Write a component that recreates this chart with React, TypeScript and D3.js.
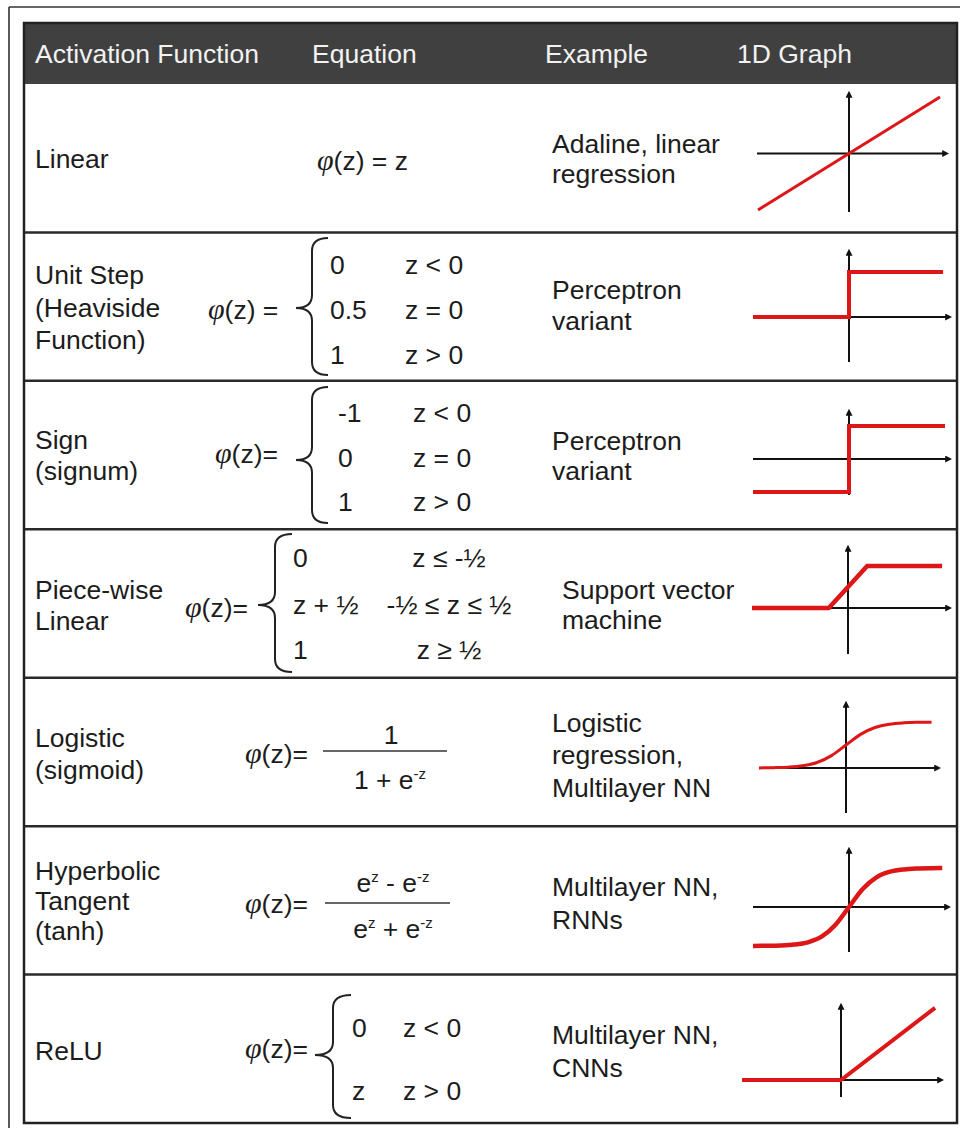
import React from "react";
import * as d3 from "d3";

// ---------- DATA ----------
const headerLabels = ["Activation Function", "Equation", "Example", "1D Graph"];

const functionNames = [
  ["Linear"],
  ["Unit Step", "(Heaviside", "Function)"],
  ["Sign", "(signum)"],
  ["Piece-wise", "Linear"],
  ["Logistic", "(sigmoid)"],
  ["Hyperbolic", "Tangent", "(tanh)"],
  ["ReLU"],
];

const examples = [
  ["Adaline, linear", "regression"],
  ["Perceptron", "variant"],
  ["Perceptron", "variant"],
  ["Support vector", "machine"],
  ["Logistic", "regression,", "Multilayer NN"],
  ["Multilayer NN,", "RNNs"],
  ["Multilayer NN,", "CNNs"],
];

const stepCases = [["0", "z < 0"], ["0.5", "z = 0"], ["1", "z > 0"]];
const signCases = [["-1", "z < 0"], ["0", "z = 0"], ["1", "z > 0"]];
const piecewiseCases = [["0", "z ≤ -½"], ["z + ½", "-½ ≤ z ≤ ½"], ["1", "z ≥ ½"]];
const reluCases = [["0", "z < 0"], ["z", "z > 0"]];

// graph curves (z, φ(z))
const linearPts = [[-1, -1], [1, 1]];
const stepPts = [[-1, 0], [0, 0], [0, 1], [0.98, 1]];
const signPts = [[-1, -1], [0, -1], [0, 1], [1, 1]];
const piecewisePts = [[-2.5, 0], [-0.5, 0], [0.5, 1], [2.45, 1]];
const sigmoidPts = [
  [-6, 0.002], [-5, 0.007], [-4, 0.018], [-3, 0.047], [-2, 0.119], [-1, 0.269], [0, 0.5],
  [1, 0.731], [2, 0.881], [3, 0.953], [4, 0.982], [5, 0.993], [5.9, 0.997],
];
const tanhPts = [
  [-3.5, -0.998], [-3, -0.995], [-2.5, -0.987], [-2, -0.964], [-1.5, -0.905], [-1, -0.762],
  [-0.5, -0.462], [0, 0], [0.5, 0.462], [1, 0.762], [1.5, 0.905], [2, 0.964], [2.5, 0.987],
  [3, 0.995], [3.4, 0.998],
];
const reluPts = [[-1, 0], [0, 0], [0.95, 0.95]];

const graphData = [
  { pts: linearPts, xDomain: [-1, 1], yDomain: [-1, 1], smooth: false },
  { pts: stepPts, xDomain: [-1, 1], yDomain: [0, 1], smooth: false },
  { pts: signPts, xDomain: [-1, 1], yDomain: [-1, 1], smooth: false },
  { pts: piecewisePts, xDomain: [-2.5, 2.5], yDomain: [0, 1], smooth: false },
  { pts: sigmoidPts, xDomain: [-6, 6], yDomain: [0, 1], smooth: true },
  { pts: tanhPts, xDomain: [-3.5, 3.5], yDomain: [-1, 1], smooth: true },
  { pts: reluPts, xDomain: [-1, 1], yDomain: [0, 1], smooth: false },
];

// ---------- LAYOUT ----------
const W = 960;
const H = 1128;
const tableL = 24, tableR = 957, tableT = 23, headerB = 84, tableB = 1123;
const FONT = "'Liberation Sans', Arial, Helvetica, sans-serif";
const SERIF = "'Liberation Serif', 'Times New Roman', serif";
const FS = 26.5;
const TXT = "#1c1c1c";
const RED = "#dd1717";

const headerX = [35, 312, 545, 737];
const nameX = 35;
const nameBaselines = [[168], [284, 317, 349], [449, 480], [599, 630], [747, 779], [880, 910, 940], [1060]];
const exampleX = [552, 552, 552, 562, 552, 552, 552];
const exampleBaselines = [[153, 183], [299, 330], [450, 480], [599, 629], [732, 764, 797], [896, 929], [1044, 1077]];

const graphLayout = [
  { xRange: [758, 940], yRange: [210, 97], hAxis: [757, 945], vAxis: [95, 212], w: 3 },
  { xRange: [753, 945], yRange: [317, 272], hAxis: [753, 948], vAxis: [253, 362], w: 4 },
  { xRange: [753, 945], yRange: [492, 426], hAxis: [753, 948], vAxis: [413, 495], w: 4 },
  { xRange: [752, 944], yRange: [608, 566], hAxis: [752, 948], vAxis: [549, 654], w: 4.5 },
  { xRange: [759, 933], yRange: [768, 722], hAxis: [759, 937], vAxis: [705, 813], w: 3 },
  { xRange: [753, 945], yRange: [946, 868], hAxis: [753, 947], vAxis: [851, 952], w: 4.5 },
  { xRange: [742, 940], yRange: [1080, 1004], hAxis: [742, 940], vAxis: [1007, 1097], w: 4 },
];

const rowScale = d3.scaleLinear().domain([0, 7]).range([headerB, tableB]);

function bracePath(x: number, top: number, bottom: number, tip: number, w: number) {
  const m = x + w / 2;
  const r = 13;
  const p = d3.path();
  p.moveTo(x + w, top);
  p.quadraticCurveTo(m, top, m, top + r);
  p.lineTo(m, tip - r);
  p.quadraticCurveTo(m, tip, x, tip);
  p.quadraticCurveTo(m, tip, m, tip + r);
  p.lineTo(m, bottom - r);
  p.quadraticCurveTo(m, bottom, x + w, bottom);
  return p.toString();
}

const Phi = () => (
  <tspan fontFamily={SERIF} fontStyle="italic" fontSize={30}>φ</tspan>
);

function Brace({ x, top, bottom, tip, w }: any) {
  return <path d={bracePath(x, top, bottom, tip, w)} fill="none" stroke="#222" strokeWidth={2} />;
}

function Cases({ cases, vx, cx, baselines, condAnchor = "start" }: any) {
  return (
    <g>
      {cases.map((c: string[], i: number) => (
        <g key={i}>
          <text x={vx} y={baselines[i]}>{c[0]}</text>
          <text x={cx} y={baselines[i]} textAnchor={condAnchor}>{c[1]}</text>
        </g>
      ))}
    </g>
  );
}

function Graph({ layout, data }: any) {
  const x = d3.scaleLinear().domain(data.xDomain).range(layout.xRange);
  const y = d3.scaleLinear().domain(data.yDomain).range(layout.yRange);
  const ox = x(0);
  const oy = y(0);
  const line = d3
    .line<number[]>()
    .x((d) => x(d[0]))
    .y((d) => y(d[1]))
    .curve(data.smooth ? d3.curveMonotoneX : d3.curveLinear);
  return (
    <g>
      <line x1={layout.hAxis[0]} x2={layout.hAxis[1]} y1={oy} y2={oy} stroke="#111" strokeWidth={2} markerEnd="url(#arr)" />
      <line x1={ox} x2={ox} y1={layout.vAxis[1]} y2={layout.vAxis[0]} stroke="#111" strokeWidth={2} markerEnd="url(#arr)" />
      <path d={line(data.pts) || ""} fill="none" stroke={RED} strokeWidth={layout.w} strokeLinejoin="miter" />
    </g>
  );
}

export default function App() {
  const rows = d3.range(1, 7).map((i) => rowScale(i));
  return (
    <svg width={W} height={H} style={{ position: "absolute", left: 0, top: 0, background: "#fff" }}
      fontFamily={FONT} fontSize={FS} fill={TXT}>
      <defs>
        <marker id="arr" viewBox="0 0 10 10" refX={4} refY={5} markerWidth={7} markerHeight={7}
          markerUnits="userSpaceOnUse" orient="auto">
          <path d="M0,0 L10,5 L0,10 z" fill="#111" />
        </marker>
      </defs>
      <rect x={0} y={0} width={W} height={H} fill="#fff" />
      {/* outer frame */}
      <line x1={9} x2={W} y1={7} y2={7} stroke="#333" strokeWidth={1.6} />
      <line x1={9} x2={9} y1={7} y2={H} stroke="#333" strokeWidth={1.6} />

      {/* header */}
      <rect x={tableL} y={tableT} width={tableR - tableL} height={headerB - tableT} fill="#404040" />
      {headerLabels.map((h, i) => (
        <text key={h} x={headerX[i]} y={63} fill="#f2f2f2">{h}</text>
      ))}

      {/* row separators */}
      {rows.map((ry, i) => (
        <line key={i} x1={tableL} x2={tableR} y1={ry} y2={ry} stroke="#2a2a2a" strokeWidth={2.5} />
      ))}

      {/* function names */}
      {functionNames.map((lines, r) =>
        lines.map((t, j) => (
          <text key={r + "-" + j} x={nameX} y={nameBaselines[r][j]}>{t}</text>
        ))
      )}

      {/* examples */}
      {examples.map((lines, r) =>
        lines.map((t, j) => (
          <text key={"e" + r + "-" + j} x={exampleX[r]} y={exampleBaselines[r][j]}>{t}</text>
        ))
      )}

      {/* equations */}
      <text x={317} y={170}><Phi />(z) = z</text>

      <text x={208} y={319}><Phi />(z) =</text>
      <Brace x={296} top={238} bottom={375} tip={308} w={32} />
      <Cases cases={stepCases} vx={330} cx={405} baselines={[274, 319, 364]} />

      <text x={215} y={463}><Phi />(z)=</text>
      <Brace x={296} top={387} bottom={523} tip={460} w={32} />
      <Cases cases={signCases} vx={338} cx={413} baselines={[422, 467, 511]} />

      <text x={185} y={617}><Phi />(z)=</text>
      <Brace x={258} top={534} bottom={672} tip={605} w={34} />
      <Cases cases={piecewiseCases} vx={293} cx={449} baselines={[567, 614, 659]} condAnchor="middle" />

      <text x={245} y={763}><Phi />(z)=</text>
      <line x1={323} x2={447} y1={751} y2={751} stroke="#333" strokeWidth={1.6} />
      <text x={391} y={744} textAnchor="middle">1</text>
      <text x={390} y={789} textAnchor="middle">
        1 + e<tspan dy={-10} fontSize={15}>-z</tspan>
      </text>

      <text x={245} y={913}><Phi />(z)=</text>
      <line x1={325} x2={450} y1={903} y2={903} stroke="#333" strokeWidth={1.6} />
      <text x={393} y={892} textAnchor="middle">
        e<tspan dy={-10} fontSize={15}>z</tspan><tspan dy={10}> - e</tspan><tspan dy={-10} fontSize={15}>-z</tspan>
      </text>
      <text x={393} y={938} textAnchor="middle">
        e<tspan dy={-10} fontSize={15}>z</tspan><tspan dy={10}> + e</tspan><tspan dy={-10} fontSize={15}>-z</tspan>
      </text>

      <text x={245} y={1058}><Phi />(z)=</text>
      <Brace x={315} top={995} bottom={1118} tip={1055} w={36} />
      <Cases cases={reluCases} vx={352} cx={403} baselines={[1037, 1100]} />

      {/* graphs */}
      {graphData.map((g, i) => (
        <Graph key={"g" + i} layout={graphLayout[i]} data={g} />
      ))}

      {/* table border */}
      <rect x={tableL} y={tableT} width={tableR - tableL} height={tableB - tableT} fill="none" stroke="#222" strokeWidth={2.5} />
    </svg>
  );
}
